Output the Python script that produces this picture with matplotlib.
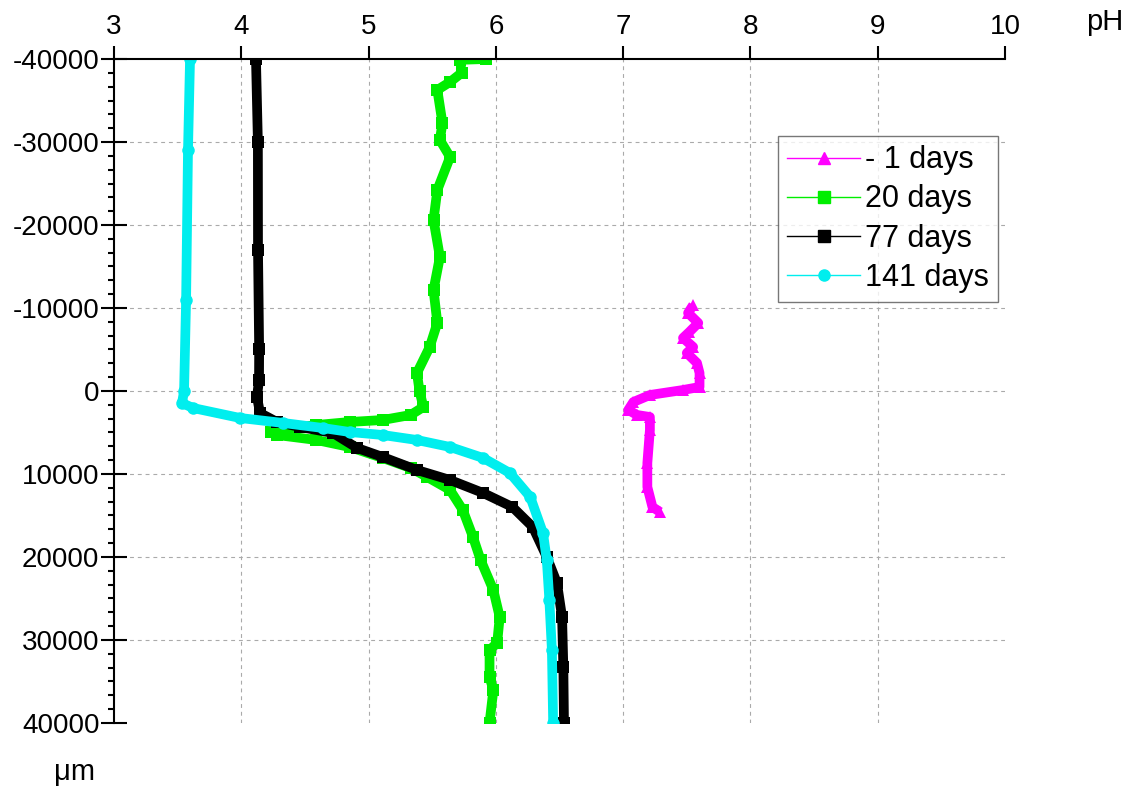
import matplotlib.pyplot as plt
from matplotlib.lines import Line2D
from matplotlib.ticker import MultipleLocator, AutoMinorLocator

plt.rcParams['font.family'] = ['Liberation Sans', 'DejaVu Sans']
plt.rcParams['axes.unicode_minus'] = False

# depth in um, pH values
d_m1 = [-10363, -9399, -8194, -7110, -6387, -5302, -4579, -3374, -2169, -482,
        -120, 482, 1326, 2290, 2892, 3133, 4700, 8676, 11568, 13978, 14580]
ph_m1 = [7.55, 7.51, 7.59, 7.52, 7.47, 7.55, 7.50, 7.58, 7.60, 7.60,
         7.47, 7.21, 7.08, 7.04, 7.11, 7.21, 7.21, 7.19, 7.19, 7.23, 7.29]

d_20 = [-40000, -39900, -38319, -37235, -36271, -32294, -30246, -28197, -24221,
        -20606, -16147, -12171, -8194, -5302, -2169, 0, 1928, 2892, 3495, 3736,
        4097, 4458, 4940, 5302, 5904, 6747, 8073, 9279, 10363, 11930, 14340,
        17590, 20365, 23980, 27233, 30366, 31210, 34460, 36030, 40000]
ph_20 = [5.92, 5.72, 5.73, 5.64, 5.54, 5.58, 5.56, 5.64, 5.54,
         5.51, 5.56, 5.51, 5.54, 5.48, 5.38, 5.40, 5.43, 5.33, 5.11, 4.85,
         4.59, 4.41, 4.23, 4.28, 4.59, 4.85, 5.11, 5.33, 5.46, 5.64, 5.74,
         5.82, 5.88, 5.98, 6.03, 6.01, 5.95, 5.95, 5.98, 5.95]

d_77 = [-40000, -30000, -16990, -5000, -1326, 723, 2651, 3736, 4338, 5061, 6869,
        7953, 9520, 10725, 12291, 13978, 16388, 20003, 23136, 27233, 33258, 40000]
ph_77 = [4.115, 4.13, 4.131, 4.14, 4.139, 4.123, 4.147, 4.28, 4.46, 4.72, 4.91,
         5.11, 5.38, 5.64, 5.90, 6.13, 6.29, 6.40, 6.48, 6.52, 6.53, 6.535]

d_141 = [-40000, -29040, -10965, 0, 1446, 2049, 3253, 3856, 4458, 4940, 5302,
         5904, 6747, 8073, 9880, 12771, 17108, 20361, 25181, 31205, 40000]
ph_141 = [3.597, 3.581, 3.566, 3.55, 3.534, 3.62, 3.99, 4.33, 4.64, 4.85, 5.11,
          5.38, 5.64, 5.90, 6.11, 6.27, 6.37, 6.40, 6.42, 6.44, 6.45]

labels = ['- 1 days', '20 days', '77 days', '141 days']
colors = ['#ff00ff', '#00ee00', '#000000', '#00eeee']
markers = ['^', 's', 's', 'o']

fig = plt.figure(figsize=(11.44, 7.91), dpi=100)
ax = fig.add_axes([0.0997, 0.086, 0.7788, 0.8394])

series = [(ph_m1, d_m1), (ph_20, d_20), (ph_77, d_77), (ph_141, d_141)]
for (x, y), c, m in zip(series, colors, markers):
    ax.plot(x, y, color=c, lw=7, marker=m, markersize=9, markeredgewidth=0,
            solid_capstyle='butt', solid_joinstyle='round')

ax.set_xlim(3, 10)
ax.set_ylim(40000, -40000)
ax.xaxis.set_major_locator(MultipleLocator(1))
ax.yaxis.set_major_locator(MultipleLocator(10000))
ax.yaxis.set_minor_locator(AutoMinorLocator(6))
ax.xaxis.tick_top()
ax.tick_params(axis='x', which='major', direction='out', length=9.5, width=1.5,
               labelsize=20, pad=4)
ax.tick_params(axis='y', which='major', direction='inout', length=19, width=1.5,
               labelsize=20, pad=1)
ax.tick_params(axis='y', which='minor', direction='out', length=4.5, width=1.5)
ax.spines['right'].set_visible(False)
ax.spines['bottom'].set_visible(False)
ax.spines['top'].set_linewidth(1.5)
ax.spines['left'].set_linewidth(1.5)

ax.grid(True, which='major', color='#aaaaaa', ls=(0, (3.5, 3.5)), lw=0.8)
# no grid on the axis edges
for line, v in zip(ax.xaxis.get_gridlines(), ax.get_xticks()):
    if v <= 3 or v >= 10:
        line.set_visible(False)
for line, v in zip(ax.yaxis.get_gridlines(), ax.get_yticks()):
    if abs(v) >= 40000:
        line.set_visible(False)

handles = [Line2D([], [], color=c, lw=1, marker=m, markersize=8)
           for c, m in zip(colors, markers)]
leg = ax.legend(handles, labels, loc='upper left', bbox_to_anchor=(0.745, 0.884),
                borderaxespad=0, fontsize=22, frameon=True, fancybox=False,
                handlelength=2.4, handletextpad=0.15, labelspacing=0.3,
                borderpad=0.3)
leg.get_frame().set_edgecolor('#555555')
leg.get_frame().set_linewidth(1)

fig.text(1105 / 1144, 1 - 22 / 791, 'pH', fontsize=21, ha='center', va='center')
fig.text(75 / 1144, 1 - 772 / 791, 'μm', fontsize=21, ha='center', va='center')

fig.savefig('out.png', dpi=100)
